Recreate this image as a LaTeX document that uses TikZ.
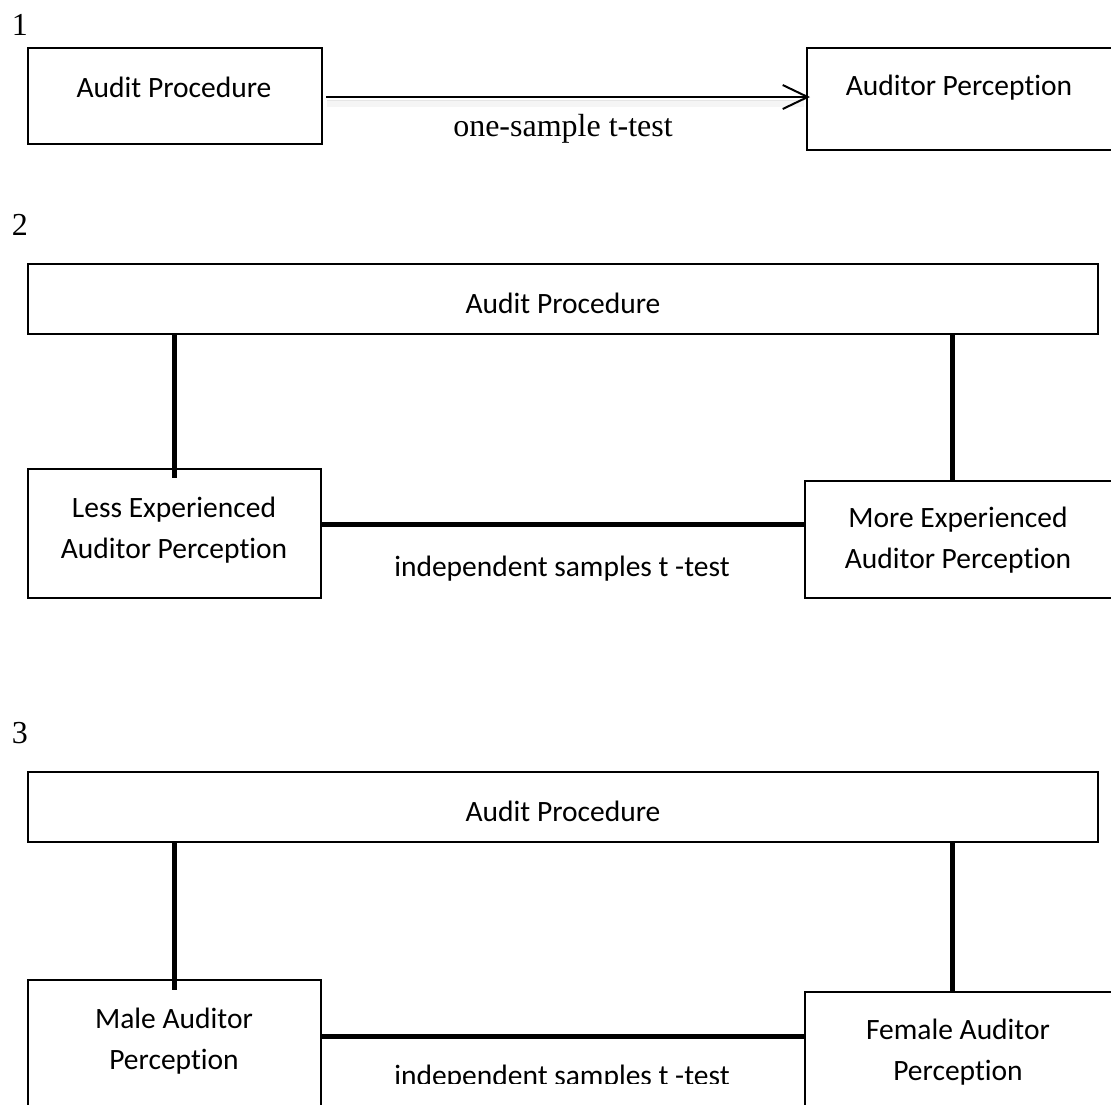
\documentclass[tikz,border=0pt]{standalone}
\usepackage{fontspec}
\setmainfont{Carlito}[Ligatures={NoCommon}]
\newfontfamily\timesf{Liberation Serif}
\usetikzlibrary{arrows.meta}
\begin{document}
\begin{tikzpicture}[x=1pt,y=-1pt,
  boxn/.style={draw,line width=2pt,inner sep=0pt,anchor=north west},
  txt/.style={font=\fontsize{29.5}{41}\selectfont,align=center,anchor=base,inner sep=0pt},
  num/.style={font=\timesf\fontsize{32}{38}\selectfont,anchor=base,inner sep=0pt},
  conn/.style={line width=5pt},
]
\useasboundingbox (0,0) rectangle (1111,1104);
\fill[white] (0,0) rectangle (1111,1104);

% section 1
\node[num] (n1) at (20,35) {1};
\node[boxn,minimum width=294pt,minimum height=96pt] (b1a) at (27,47) {};
\node[boxn,minimum width=310pt,minimum height=102pt] (b1b) at (806,47) {};
\node[txt] (t1a) at (174,97) {Audit Procedure};
\node[txt] (t1b) at (959,95) {Auditor Perception};
\coordinate (a1) at (0,97);
\draw[line width=3pt,black!10] ([xshift=4pt]b1a.east |- 0,101) -- ([xshift=-2pt]b1b.west |- 0,101);
\draw[line width=6pt,black!4] ([xshift=4pt]b1a.east |- 0,104) -- ([xshift=-2pt]b1b.west |- 0,104);
\draw[line width=2pt,-{Straight Barb[length=25pt,width=24pt,line width=2pt]}]
  ([xshift=3pt]b1a.east |- a1) -- ([xshift=4pt]b1b.west |- a1);
\node[num] (l1) at (563,136) {one-sample t-test};

% section 2
\node[num] (n2) at (20,235) {2};
\node[boxn,minimum width=1070pt,minimum height=70pt] (ap2) at (27,263) {};
\node[txt] (tap2) at (563,313) {Audit Procedure};
\node[boxn,minimum width=293pt,minimum height=129pt] (less) at (27,468) {};
\node[txt] (tless) at (174,558) {Less Experienced\\Auditor Perception};
\node[boxn,minimum width=310pt,minimum height=117pt] (more) at (804,480) {};
\node[txt] (tmore) at (958,568) {More Experienced\\Auditor Perception};
\coordinate (r2) at (952,0);
\coordinate (h2) at (0,524);
\draw[conn] (ap2.south -| less.north) -- ([yshift=-10pt]less.north);
\draw[conn] (ap2.south -| r2) -- (more.north -| r2);
\draw[conn] (less.east |- h2) -- (more.west |- h2);
\node[txt] (l2) at (562,576) {independent samples t -test};

% section 3
\node[num] (n3) at (20,743) {3};
\node[boxn,minimum width=1070pt,minimum height=70pt] (ap3) at (27,771) {};
\node[txt] (tap3) at (563,821) {Audit Procedure};
\node[boxn,minimum width=293pt,minimum height=200pt] (male) at (27,979) {};
\node[txt] (tmale) at (174,1069) {Male Auditor\\Perception};
\node[boxn,minimum width=310pt,minimum height=200pt] (female) at (804,991) {};
\node[txt] (tfemale) at (958,1080) {Female Auditor\\Perception};
\coordinate (r3) at (952,0);
\coordinate (h3) at (0,1036);
\draw[conn] (ap3.south -| male.north) -- ([yshift=-11pt]male.north);
\draw[conn] (ap3.south -| r3) -- (female.north -| r3);
\draw[conn] (male.east |- h3) -- (female.west |- h3);
\begin{scope}
\clip (322,1045) rectangle (802,1083);
\node[txt] (l3) at (562,1085) {independent samples t -test};
\end{scope}
\end{tikzpicture}
\end{document}
